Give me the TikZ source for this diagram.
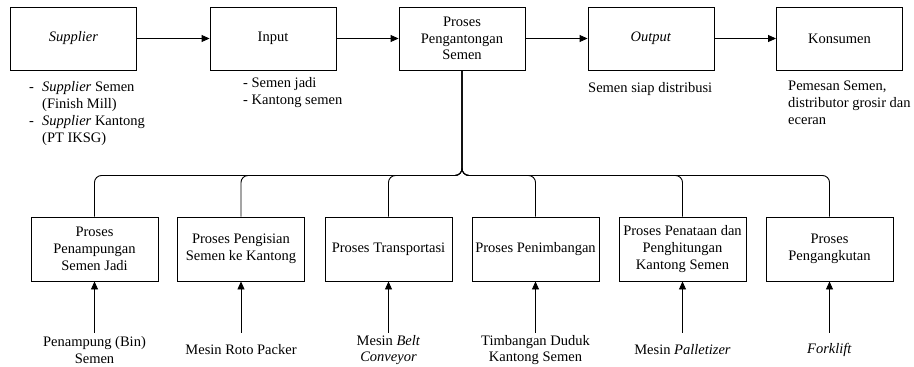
\documentclass[tikz,border=0pt]{standalone}
\usepackage{fontspec}
\setmainfont{Liberation Serif}
\usetikzlibrary{arrows.meta}
\begin{document}
\begin{tikzpicture}[x=1pt,y=-1pt,
 font=\fontsize{14.5}{16.7}\selectfont,
 box/.style={draw, line width=0.9pt, minimum width=126pt, minimum height=63pt, inner sep=0pt, align=center},
 sbox/.style={draw, line width=0.9pt, minimum width=127pt, minimum height=64pt, inner sep=0pt, align=center},
 arr/.style={line width=0.9pt, -{Triangle[length=8pt,width=7pt]}},
 branch/.style={line width=0.9pt, rounded corners=7pt},
 lbl/.style={minimum height=34pt, inner sep=0pt, align=center},
 note/.style={inner sep=0pt, align=left, anchor=base west}]
\useasboundingbox (0,0) rectangle (914,367);
% top row
\node[box] (S) at (73.5,38.5) {\textit{Supplier}};
\node[box] (I) at (273,38.5) {Input};
\node[box] (P) at (462,38.5) {Proses\\Pengantongan\\Semen};
\node[box] (O) at (651,38.5) {\textit{Output}};
\node[box] (K) at (839.5,38.5) {Konsumen};
\draw[arr] (S) -- (I);
\draw[arr] (I) -- (P);
\draw[arr] (P) -- (O);
\draw[arr] (O) -- (K);
% notes (base anchor = baseline of last line)
\node[note] (nS) at (29,142) {\makebox[13pt][l]{-}\textit{Supplier} Semen\\\hspace*{13pt}(Finish Mill)\\\makebox[13pt][l]{-}\textit{Supplier} Kantong\\\hspace*{13pt}(PT IKSG)};
\node[note] (nI) at (243,104) {- Semen jadi\\- Kantong semen};
\node[note] (nO) at (588,92) {Semen siap distribusi};
\node[note] (nK) at (788,124) {Pemesan Semen,\\distributor grosir dan\\eceran};
% bottom row
\node[sbox] (B1) at (94.5,249) {Proses\\Penampungan\\Semen Jadi};
\node[sbox] (B2) at (241,249) {Proses Pengisian\\Semen ke Kantong};
\node[sbox] (B3) at (388.5,249) {Proses Transportasi};
\node[sbox] (B4) at (535.5,249) {Proses Penimbangan};
\node[sbox] (B5) at (682.5,249) {Proses Penataan dan\\Penghitungan\\Kantong Semen};
\node[sbox] (B6) at (829.5,249) {Proses\\Pengangkutan};
\coordinate (J) at (462,175.5);
\foreach \b in {B1,B2,B3,B4,B5,B6}{
  \draw[branch] (P.south) -- (J) -| (\b.north);
}
% bottom labels
\node[lbl] (L1) at (94.5,350) {Penampung (Bin)\\Semen};
\node[lbl] (L2) at (241,350) {Mesin Roto Packer};
\node[lbl] (L3) at (388.5,350) {Mesin \textit{Belt}\\\textit{Conveyor}};
\node[lbl] (L4) at (535.5,350) {Timbangan Duduk\\Kantong Semen};
\node[lbl] (L5) at (682.5,350) {Mesin \textit{Palletizer}};
\node[lbl] (L6) at (829.5,350) {\textit{Forklift}};
\foreach \i in {1,...,6}{
  \draw[arr] (L\i.north) -- (B\i.south);
}
\end{tikzpicture}
\end{document}
